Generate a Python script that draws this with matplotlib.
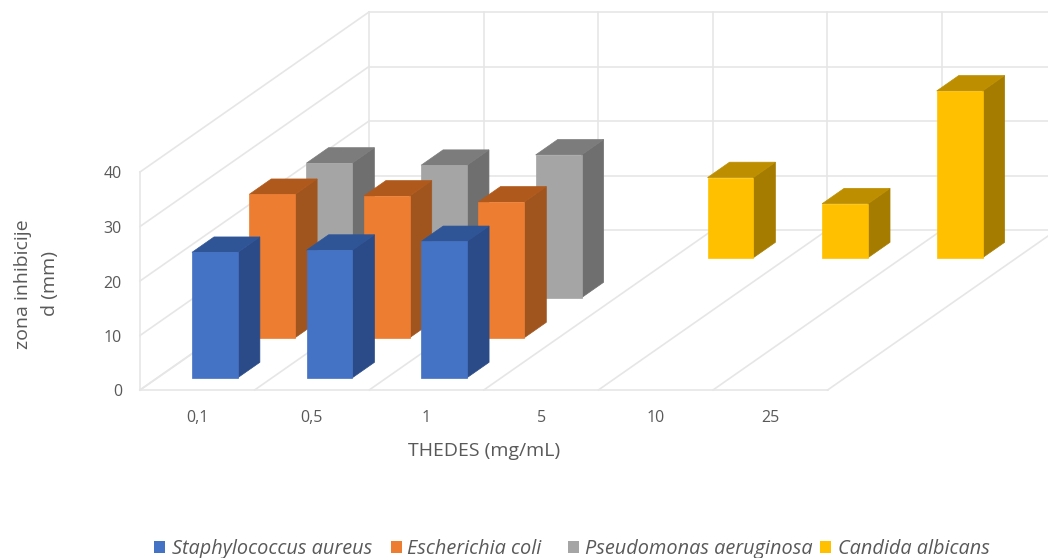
import matplotlib
matplotlib.use("Agg")
import matplotlib.pyplot as plt
from matplotlib.patches import Polygon, Rectangle

categories = ["0,1", "0,5", "1", "5", "10", "25"]
staph = [23.0, 23.4, 25.0, None, None, None]
ecoli = [26.3, 26.0, 24.9, None, None, None]
pseudo = [24.7, 24.3, 26.2, None, None, None]
candida = [None, None, None, 14.7, 9.9, 30.6]
series_names = ["Staphylococcus aureus", "Escherichia coli", "Pseudomonas aeruginosa", "Candida albicans"]
y_ticks = [0, 10, 20, 30, 40]

series = [staph, ecoli, pseudo, candida]
front = ["#4472C4", "#ED7D31", "#A5A5A5", "#FFC000"]
side = ["#2A4B87", "#A0551E", "#6F6F6F", "#A67C00"]
top = ["#2F5597", "#B0591C", "#7C7C7C", "#BD8F00"]
GRID = "#E6E6E6"
TXT = "#595959"

X0, Y0 = 140.0, 390.0
CW = 114.6
DX, DY = 57.25, 40.0
VS = 5.45
BW = 0.40
BD = 0.385


def P(c, d, v=0.0):
    return (X0 + CW * c + DX * d, Y0 - DY * d - VS * v)


plt.rcParams["font.family"] = ["Open Sans", "DejaVu Sans"]
fig = plt.figure(figsize=(10.48, 5.58), dpi=100)
ax = fig.add_axes([0, 0, 1, 1])
ax.set_xlim(0, 1048)
ax.set_ylim(558, 0)
ax.axis("off")

n = len(categories)
nd = len(series)
vmax = y_ticks[-1]
lw = 1.2
# floor and walls
for c in range(n + 1):
    ax.plot(*zip(P(c, 0), P(c, nd)), color=GRID, lw=lw, zorder=1)
    ax.plot(*zip(P(c, nd), P(c, nd, vmax)), color=GRID, lw=lw, zorder=1)
ax.plot(*zip(P(0, 0), P(n, 0)), color=GRID, lw=lw, zorder=1)
ax.plot(*zip(P(0, 0), P(0, 0, vmax)), color=GRID, lw=lw, zorder=1)
for v in y_ticks:
    ax.plot(*zip(P(0, 0, v), P(0, nd, v)), color=GRID, lw=lw, zorder=1)
    ax.plot(*zip(P(0, nd, v), P(n, nd, v)), color=GRID, lw=lw, zorder=1)
    ax.text(122, P(0, 0, v)[1] + 2.5, str(v), ha="right", va="center", fontsize=11.5, color=TXT)

# bars, back to front
z = 2
for s in range(nd - 1, -1, -1):
    for i, v in enumerate(series[s]):
        if v is None:
            continue
        c0 = i + (1 - BW) / 2
        c1 = c0 + BW
        d0 = s + (1 - BD) / 2
        d1 = d0 + BD
        ax.add_patch(Polygon([P(c1, d0), P(c1, d1), P(c1, d1, v), P(c1, d0, v)],
                             fc=side[s], ec=side[s], lw=0.5, zorder=z))
        ax.add_patch(Polygon([P(c0, d0, v), P(c1, d0, v), P(c1, d1, v), P(c0, d1, v)],
                             fc=top[s], ec=top[s], lw=0.5, zorder=z))
        ax.add_patch(Polygon([P(c0, d0), P(c1, d0), P(c1, d0, v), P(c0, d0, v)],
                             fc=front[s], ec=front[s], lw=0.5, zorder=z + 0.5))
    z += 1

for i, lab in enumerate(categories):
    ax.text(P(i + 0.5, 0)[0], 418, lab, ha="center", va="center", fontsize=11.5, color=TXT)

ax.text(484, 451, "THEDES (mg/mL)", ha="center", va="center", fontsize=14, color=TXT)
ax.text(23, 284, "zona inhibicije", rotation=90, ha="center", va="center", fontsize=14, color=TXT)
ax.text(50, 284, "d (mm)", rotation=90, ha="center", va="center", fontsize=14, color=TXT)

leg_sq = [154, 391, 568, 820]
leg_tx = [172, 407, 585, 838]
for name, col, sx, tx in zip(series_names, front, leg_sq, leg_tx):
    ax.add_patch(Rectangle((sx, 541), 11, 12, fc=col, ec="none"))
    ax.text(tx, 549, name, ha="left", va="center", fontsize=14.3, style="italic", color=TXT)

fig.savefig("out.png", dpi=100)
